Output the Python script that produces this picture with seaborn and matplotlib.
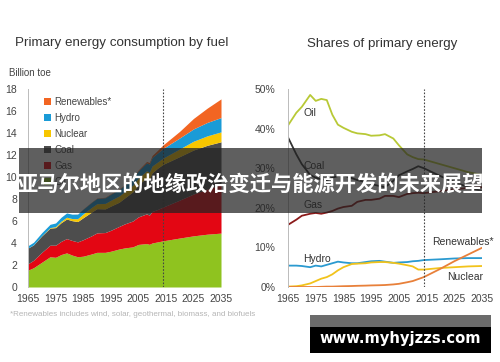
import matplotlib
matplotlib.use("Agg")
import matplotlib.pyplot as plt
from matplotlib.patches import Rectangle
import seaborn as sns
import pandas as pd

# Primary energy consumption by fuel (billion toe)
years_l = [1965, 1967, 1970, 1973, 1975, 1977, 1979, 1981, 1983, 1985, 1988, 1990, 1993,
           1995, 1998, 2000, 2003, 2005, 2008, 2009, 2010, 2012, 2014, 2020, 2025, 2030, 2035]
oil = [1.53, 1.75, 2.25, 2.75, 2.70, 2.95, 3.10, 2.90, 2.75, 2.80, 3.00, 3.15, 3.15,
       3.25, 3.45, 3.55, 3.65, 3.87, 3.95, 3.88, 4.00, 4.10, 4.20, 4.45, 4.65, 4.80, 4.90]
gas = [0.58, 0.68, 0.90, 1.05, 1.10, 1.20, 1.30, 1.33, 1.35, 1.50, 1.65, 1.77, 1.80,
       1.90, 2.05, 2.18, 2.35, 2.50, 2.70, 2.65, 2.87, 2.95, 3.07, 3.45, 3.80, 4.10, 4.40]
coal = [1.43, 1.40, 1.50, 1.55, 1.60, 1.70, 1.78, 1.80, 1.85, 2.00, 2.15, 2.20, 2.15,
        2.20, 2.20, 2.35, 2.65, 2.90, 3.30, 3.30, 3.50, 3.75, 3.88, 3.95, 4.00, 3.98, 3.90]
nuclear = [0.005, 0.01, 0.02, 0.05, 0.09, 0.13, 0.16, 0.19, 0.26, 0.34, 0.43, 0.45, 0.50,
           0.53, 0.57, 0.58, 0.61, 0.63, 0.62, 0.61, 0.63, 0.56, 0.57, 0.70, 0.80, 0.86, 0.90]
hydro = [0.21, 0.23, 0.27, 0.30, 0.33, 0.36, 0.39, 0.40, 0.42, 0.44, 0.46, 0.49, 0.52,
         0.56, 0.59, 0.60, 0.61, 0.66, 0.72, 0.74, 0.78, 0.83, 0.88, 1.00, 1.12, 1.22, 1.30]
renewables = [0.0, 0.0, 0.0, 0.0, 0.0, 0.0, 0.0, 0.0, 0.01, 0.02, 0.03, 0.03, 0.04,
              0.04, 0.05, 0.05, 0.06, 0.08, 0.12, 0.14, 0.17, 0.24, 0.32, 0.60, 0.95, 1.30, 1.70]

fuel_names = ["Oil", "Gas", "Coal", "Nuclear", "Hydro", "Renewables*"]
fuel_colors = ["#8fc31f", "#e30613", "#4d4d4d", "#f7c600", "#1a9bd7", "#f26522"]

# Shares of primary energy (%)
years_r = [1965, 1968, 1970, 1973, 1975, 1977, 1979, 1981, 1983, 1985, 1988, 1990, 1993,
           1995, 1998, 2000, 2003, 2005, 2008, 2010, 2012, 2014, 2020, 2025, 2030, 2035]
share_oil = [40.8, 44.0, 45.5, 48.5, 47.0, 47.5, 47.2, 43.5, 41.0, 40.2, 39.2, 38.8, 38.6,
             38.2, 38.3, 38.6, 37.5, 35.8, 33.5, 32.8, 32.3, 32.2, 31.0, 30.0, 29.0, 28.3]
share_coal = [37.8, 33.5, 31.0, 28.3, 27.6, 27.2, 27.0, 27.6, 28.0, 28.2, 27.5, 27.0, 26.5,
              26.0, 25.5, 25.2, 26.8, 28.2, 29.2, 29.8, 30.5, 30.0, 28.0, 26.5, 25.2, 24.2]
share_gas = [15.7, 17.0, 18.0, 18.5, 18.7, 18.5, 18.8, 19.2, 19.8, 20.2, 20.5, 21.5, 22.0,
             22.0, 22.3, 23.0, 23.0, 22.7, 23.5, 23.7, 23.8, 23.7, 24.2, 24.7, 25.0, 25.2]
share_hydro = [5.4, 5.4, 5.3, 5.0, 5.4, 5.2, 5.6, 6.0, 6.4, 6.2, 6.0, 6.0, 6.3,
               6.5, 6.6, 6.4, 6.1, 6.2, 6.3, 6.5, 6.6, 6.8, 7.0, 7.2, 7.3, 7.3]
share_nuclear = [0.1, 0.2, 0.4, 0.9, 1.5, 2.1, 2.5, 3.2, 4.2, 5.0, 5.8, 5.9, 6.0,
                 6.2, 6.3, 6.3, 6.1, 5.9, 5.5, 5.2, 4.4, 4.4, 4.8, 5.0, 5.2, 5.3]
share_renew = [0.0, 0.0, 0.0, 0.0, 0.0, 0.05, 0.1, 0.1, 0.15, 0.2, 0.25, 0.3, 0.35,
               0.4, 0.45, 0.5, 0.65, 0.8, 1.2, 1.5, 2.0, 2.5, 4.6, 6.5, 8.2, 9.9]

share_colors = {"Oil": "#b8c936", "Coal": "#333333", "Gas": "#8b1a1a",
                "Hydro": "#2b9ad0", "Nuclear": "#f2c31b", "Renewables*": "#e8803a"}

forecast_year = 2014

sns.set_style("white")
plt.rcParams['font.family'] = ['Liberation Sans', 'Noto Sans CJK SC']

W, H = 500, 362
fig = plt.figure(figsize=(W / 100, H / 100), dpi=100)


def fx(x):
    return x / W


def fy(y):
    return 1 - y / H


ax1 = fig.add_axes([fx(28), fy(287), (221 - 28) / W, (287 - 89) / H])
ax2 = fig.add_axes([fx(288), fy(287), (482 - 288) / W, (287 - 89) / H])

# # Left: stacked area # #
ax1.stackplot(years_l, oil, gas, coal, nuclear, hydro, renewables,
              colors=fuel_colors, labels=fuel_names, linewidth=0)
ax1.axvline(forecast_year, color="#444444", lw=0.8, ls=(0, (1.5, 1.5)), zorder=3)
ax1.set_xlim(1965, 2035)
ax1.set_ylim(0, 18)
ax1.set_yticks(range(0, 19, 2))
ax1.set_xticks(range(1965, 2036, 10))
handles, labels = ax1.get_legend_handles_labels()
ax1.legend(handles[::-1], labels[::-1], loc="upper left",
           bbox_to_anchor=(fx(40), fy(93)), bbox_transform=fig.transFigure,
           frameon=False, fontsize=7, handlelength=0.7, handleheight=0.7,
           handletextpad=0.4, labelspacing=0.62, borderaxespad=0, labelcolor="#444444")

# # Right: share lines # #
share_df = pd.DataFrame({
    "year": years_r * 6,
    "share": share_oil + share_coal + share_gas + share_hydro + share_nuclear + share_renew,
    "fuel": (["Oil"] * len(years_r) + ["Coal"] * len(years_r) + ["Gas"] * len(years_r)
             + ["Hydro"] * len(years_r) + ["Nuclear"] * len(years_r)
             + ["Renewables*"] * len(years_r)),
})
sns.lineplot(data=share_df, x="year", y="share", hue="fuel", palette=share_colors,
             legend=False, ax=ax2, linewidth=1.3)
ax2.axvline(forecast_year, color="#444444", lw=0.8, ls=(0, (1.5, 1.5)), zorder=3)
ax2.set_xlim(1965, 2035)
ax2.set_ylim(0, 50)
ax2.set_yticks(range(0, 51, 10))
ax2.set_yticklabels([f"{v}%" for v in range(0, 51, 10)])
ax2.set_xticks(range(1965, 2036, 10))
ax2.set_xlabel("")
ax2.set_ylabel("")

for ax in (ax1, ax2):
    ax.spines[["right", "top", "bottom"]].set_visible(False)
    ax.spines["left"].set_color("#bbbbbb")
    ax.spines["left"].set_linewidth(0.7)
    ax.tick_params(axis="x", length=0, pad=5, labelsize=7.5, labelcolor="#444444")
    ax.tick_params(axis="y", length=3, width=0.6, color="#aaaaaa", pad=5,
                   labelsize=7.5, labelcolor="#444444")
    ax.set_facecolor("none")
ax2.tick_params(axis="y", length=0, pad=9)

# labels on the share chart
line_labels = [("Oil", 304, 113), ("Coal", 304, 166), ("Gas", 304, 205),
               ("Hydro", 303, 259), ("Renewables*", 432, 242), ("Nuclear", 447, 277)]
for name, x, y in line_labels:
    fig.text(fx(x), fy(y), name, fontsize=7.5, color="#333333", ha="left", va="center")

# titles and notes
fig.text(fx(15), fy(43), "Primary energy consumption by fuel", fontsize=9.6,
         color="#333333", ha="left", va="center")
fig.text(fx(382), fy(44), "Shares of primary energy", fontsize=9.6,
         color="#333333", ha="center", va="center")
fig.text(fx(9), fy(73), "Billion toe", fontsize=7, color="#444444", ha="left", va="center")
fig.text(fx(10), fy(315), "*Renewables includes wind, solar, geothermal, biomass, and biofuels",
         fontsize=5.8, color="#b5b5b5", ha="left", va="center")

# overlay banner
fig.patches.append(Rectangle((fx(19), fy(213)), (482 - 19) / W, (213 - 148) / H,
                             transform=fig.transFigure, facecolor="#222222", alpha=0.72,
                             edgecolor="none", zorder=10))
fig.text(fx(250.5), fy(184), "亚马尔地区的地缘政治变迁与能源开发的未来展望",
         fontsize=15.3, fontweight="bold", color="white", ha="center", va="center",
         family=["Noto Sans CJK SC", "DejaVu Sans"], zorder=11)

# site box
fig.patches.append(Rectangle((fx(310), fy(327)), (491 - 310) / W, 12 / H,
                             transform=fig.transFigure, facecolor="#6b6b6b",
                             edgecolor="none", zorder=10))
fig.patches.append(Rectangle((fx(310), fy(353)), (491 - 310) / W, 26 / H,
                             transform=fig.transFigure, facecolor="black",
                             edgecolor="none", zorder=10))
fig.text(fx(400), fy(339), "www.myhyjzzs.com", fontsize=10.6, fontweight="bold",
         color="white", ha="center", va="center", family=["DejaVu Sans"], zorder=11)

fig.savefig("out.png", dpi=100)
